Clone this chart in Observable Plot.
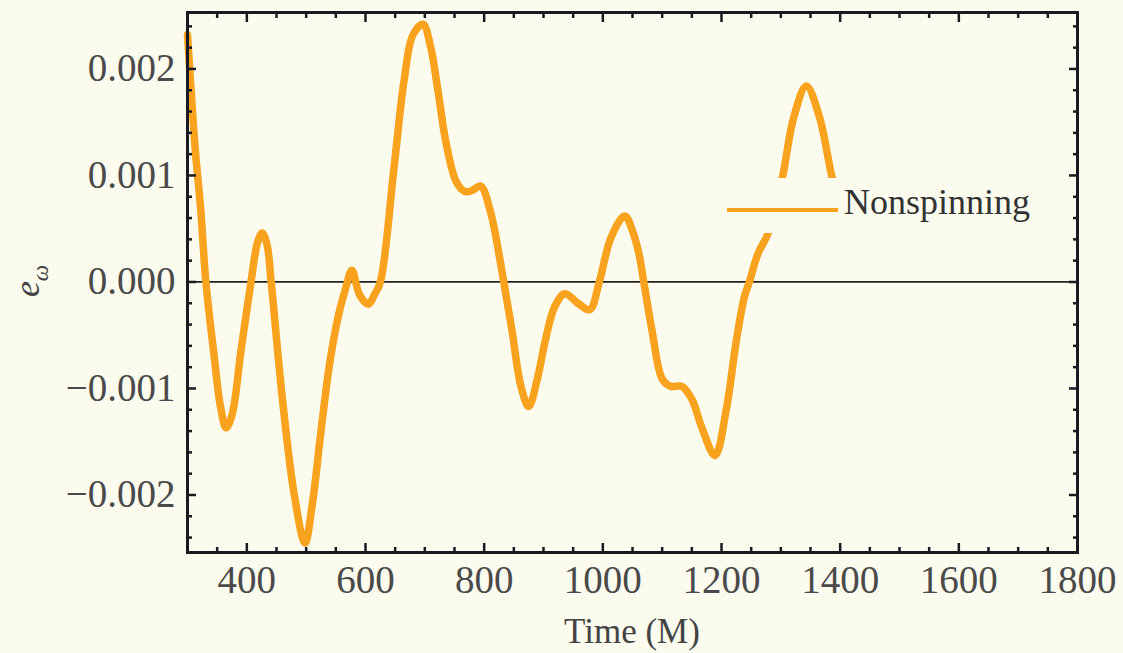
<!DOCTYPE html>
<html>
<head>
<meta charset="utf-8">
<script src="https://cdn.jsdelivr.net/npm/d3@7"></script>
<script src="https://cdn.jsdelivr.net/npm/@observablehq/plot@0.6"></script>
<style>
  html, body { margin: 0; padding: 0; background: #fbfbee; }
  #wrap { position: relative; width: 1123px; height: 653px; background: #fbfbee; font-family: "Liberation Serif", "DejaVu Serif", serif; }
  #ylab { position: absolute; left: 30px; top: 281px; transform: translate(-50%, -50%) rotate(-90deg); font-size: 36px; color: #444; white-space: nowrap; }
  #ylab sub { font-size: 23px; }
  #xlab { position: absolute; left: 632px; top: 632px; transform: translate(-50%, -50%); font-size: 35px; color: #444; white-space: nowrap; }
  #legend { position: absolute; left: 722px; top: 178px; width: 318px; height: 55px; background: #fbfbee; }
  #legend .sw { position: absolute; left: 5px; top: 30px; width: 111px; height: 4px; background: #f8a21d; }
  #legend .lt { position: absolute; left: 122px; top: 6px; font-size: 36px; line-height: 36px; color: #333; white-space: nowrap; }
</style>
</head>
<body>
<div id="wrap"></div>
<script>
// Time (M)
const times = [300, 313, 322, 331, 345, 355, 365, 375, 390, 407, 418, 426, 434, 441, 460, 480, 498, 510, 525, 540, 555, 567, 577, 590, 605, 615, 625, 648, 665, 680, 697, 710, 722, 736, 753, 767, 780, 794, 811, 825, 833, 847, 862, 875, 890, 903, 919, 936, 958, 978, 994, 1014, 1037, 1050, 1061, 1069, 1083, 1100, 1114, 1133, 1150, 1167, 1189, 1208, 1225, 1239, 1247, 1261, 1278, 1290, 1303, 1322, 1343, 1365, 1386, 1400];
// e_omega (Nonspinning)
const eOmega = [0.00232, 0.00125, 0.0007, 0.0, -0.0007, -0.00115, -0.00137, -0.00125, -0.00065, 0.0, 0.00037, 0.00046, 0.00035, 0.0, -0.0011, -0.0020, -0.00245, -0.0021, -0.0014, -0.00075, -0.0003, -0.00005, 0.00011, -0.00012, -0.00021, -0.00012, 0.0, 0.00107, 0.00189, 0.00232, 0.00242, 0.0022, 0.0018, 0.0013, 0.00094, 0.00085, 0.00086, 0.0009, 0.00065, 0.00026, 0.0, -0.00046, -0.00098, -0.00117, -0.0009, -0.00055, -0.00023, -0.00011, -0.0002, -0.00026, 0.0, 0.00042, 0.00062, 0.00048, 0.00026, 0.0, -0.00046, -0.00091, -0.00098, -0.00098, -0.0011, -0.00137, -0.00163, -0.0012, -0.00055, -0.00013, 0.0, 0.00026, 0.00045, 0.0007, 0.00099, 0.00155, 0.00184, 0.00155, 0.00099, 0.0007];

const xMajor = [400, 600, 800, 1000, 1200, 1400, 1600, 1800];
const xMinor = [300, 350, 450, 500, 550, 650, 700, 750, 850, 900, 950, 1050, 1100, 1150, 1250, 1300, 1350, 1450, 1500, 1550, 1650, 1700, 1750];
const yMajor = [-0.002, -0.001, 0, 0.001, 0.002];
const yMinor = [-0.0024, -0.0022, -0.0018, -0.0016, -0.0014, -0.0012, -0.0008, -0.0006, -0.0004, -0.0002, 0.0002, 0.0004, 0.0006, 0.0008, 0.0012, 0.0014, 0.0016, 0.0018, 0.0022, 0.0024];

const seriesName = "Nonspinning";
const xTitle = "Time (M)";
const lineColor = "#f8a21d";
const ink = "#1a1a22";
const labelInk = "#4a4a4a";

const data = times.map((t, i) => ({t, e: eOmega[i]}));
const yFmt = d3.format(".3f");
const blank = () => "";

const chart = Plot.plot({
  width: 1123,
  height: 653,
  marginLeft: 187,
  marginRight: 46,
  marginTop: 12,
  marginBottom: 101,
  style: {background: "#fbfbee", fontFamily: "Liberation Serif, serif", fontSize: "39px", color: labelInk},
  x: {domain: [300, 1800]},
  y: {domain: [-0.00254, 0.00253]},
  marks: [
    Plot.ruleY([0], {stroke: "#222", strokeWidth: 1.8}),
    Plot.line(data, {x: "t", y: "e", stroke: lineColor, strokeWidth: 7.5, curve: "catmull-rom", strokeLinejoin: "round", strokeLinecap: "round"}),
    Plot.frame({stroke: ink, strokeWidth: 3}),
    Plot.axisX(xMajor, {anchor: "bottom", tickSize: -9, tickPadding: 22, tickFormat: d => String(d), stroke: ink, fill: labelInk, label: null, strokeWidth: 2.5}),
    Plot.axisX(xMinor, {anchor: "bottom", tickSize: -5, tickFormat: blank, stroke: ink, label: null, strokeWidth: 2.5}),
    Plot.axisX(xMajor, {anchor: "top", tickSize: -9, tickFormat: blank, stroke: ink, label: null, strokeWidth: 2.5}),
    Plot.axisX(xMinor, {anchor: "top", tickSize: -5, tickFormat: blank, stroke: ink, label: null, strokeWidth: 2.5}),
    Plot.axisY(yMajor, {anchor: "left", tickSize: -9, tickPadding: 21, tickFormat: yFmt, stroke: ink, fill: labelInk, label: null, strokeWidth: 2.5}),
    Plot.axisY(yMinor, {anchor: "left", tickSize: -5, tickFormat: blank, stroke: ink, label: null, strokeWidth: 2.5}),
    Plot.axisY(yMajor, {anchor: "right", tickSize: -9, tickFormat: blank, stroke: ink, label: null, strokeWidth: 2.5}),
    Plot.axisY(yMinor, {anchor: "right", tickSize: -5, tickFormat: blank, stroke: ink, label: null, strokeWidth: 2.5})
  ]
});

const wrap = document.getElementById("wrap");
wrap.appendChild(chart);

const ylab = document.createElement("div");
ylab.id = "ylab";
ylab.innerHTML = "<i>e</i><sub><i>ω</i></sub>";
wrap.appendChild(ylab);

const xlab = document.createElement("div");
xlab.id = "xlab";
xlab.textContent = xTitle;
wrap.appendChild(xlab);

const legend = document.createElement("div");
legend.id = "legend";
legend.innerHTML = `<div class="sw"></div><div class="lt">${seriesName}</div>`;
wrap.appendChild(legend);
</script>
</body>
</html>
